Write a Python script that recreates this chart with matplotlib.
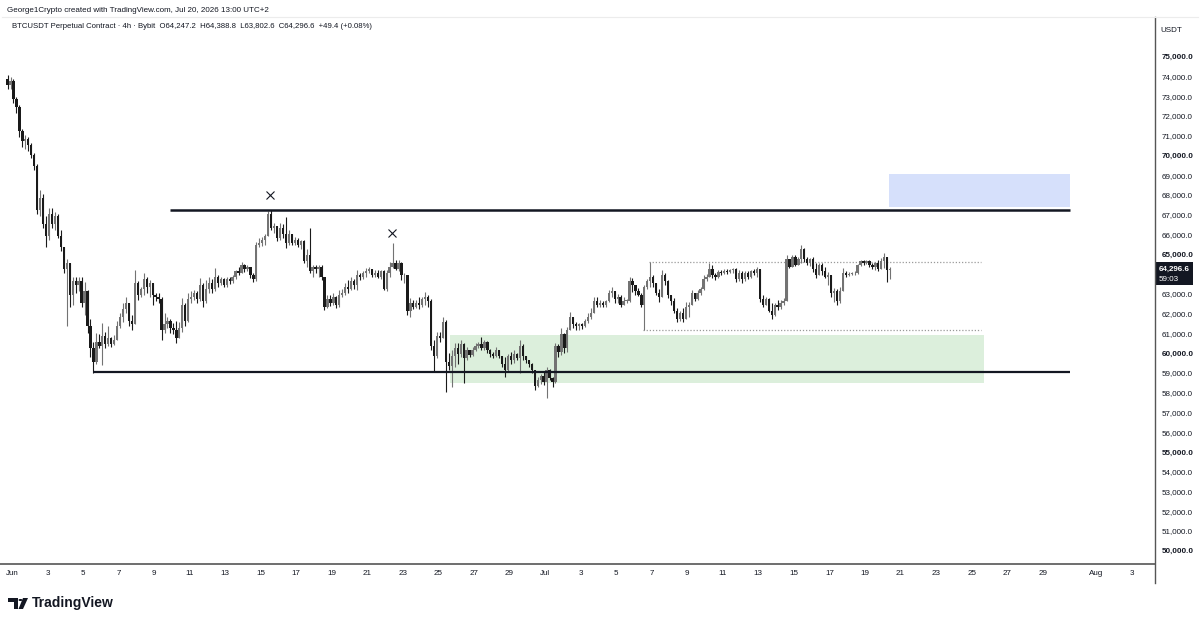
import matplotlib
matplotlib.use("Agg")
import matplotlib.pyplot as plt
import matplotlib.dates as mdates
from matplotlib.patches import Rectangle, Polygon, Circle
from matplotlib.lines import Line2D
import numpy as np
import pandas as pd

plt.rcParams['font.family'] = ['Liberation Sans', 'DejaVu Sans']

# BTCUSDT perpetual, Bybit, 4h bars from May 31 18:00 (UTC+2), prices in thousands
first_open = 73.90
closes = [
    73.60, 73.80,
    72.90, 72.50, 71.30, 70.80, 70.90, 70.60,
    70.10, 69.50, 67.30, 67.90, 66.60, 66.00,
    67.10, 66.60, 67.00, 66.00, 65.40, 64.30,
    64.60, 63.00, 63.70, 63.50, 63.70, 62.60,
    63.20, 61.40, 60.30, 59.60, 60.60, 60.40,
    60.90, 60.50, 60.80, 60.50, 60.70, 61.40,
    61.90, 62.30, 62.60, 61.70, 61.50, 63.60,
    63.00, 63.30, 63.80, 63.40, 63.60, 63.00,
    62.90, 62.80, 61.20, 61.50, 61.70, 61.30,
    61.20, 60.80, 61.30, 62.50, 61.70, 62.80,
    62.90, 63.10, 62.80, 63.50, 62.70, 63.30,
    63.60, 63.30, 63.90, 63.60, 63.80, 63.50,
    63.80, 63.70, 63.90, 64.20, 64.10, 64.50,
    64.30, 64.40, 64.00, 63.80, 65.50, 65.60,
    65.80, 66.00, 67.10, 66.40, 66.50, 65.90,
    66.40, 66.10, 65.60, 66.10, 65.60, 65.80,
    65.50, 65.70, 64.70, 65.00, 64.20, 64.40,
    64.30, 64.40, 63.90, 62.40, 62.80, 62.60,
    62.90, 62.50, 63.00, 63.10, 63.40, 63.30,
    63.70, 63.50, 64.00, 63.90, 64.10, 64.20,
    64.30, 64.00, 64.10, 63.90, 64.20, 63.30,
    64.10, 64.40, 64.60, 64.30, 64.60, 64.00,
    64.00, 62.20, 62.60, 62.40, 62.60, 62.50,
    62.80, 62.90, 62.70, 60.40, 59.90, 60.90,
    60.80, 61.60, 59.60, 59.40, 59.90, 60.30,
    60.00, 60.50, 59.80, 60.20, 59.95, 60.20,
    60.40, 60.50, 60.30, 60.60, 60.20, 60.00,
    59.90, 60.20, 59.90, 59.50, 59.20, 59.90,
    59.70, 60.00, 59.80, 60.40, 59.90, 59.70,
    59.50, 59.20, 58.40, 58.70, 58.90, 58.60,
    59.20, 58.80, 58.60, 60.40, 60.10, 61.00,
    60.30, 61.20, 61.90, 61.50, 61.40, 61.50,
    61.40, 61.70, 61.90, 62.10, 62.70, 62.50,
    62.60, 62.50, 62.70, 63.10, 63.20, 62.80,
    62.90, 62.50, 62.70, 62.70, 63.70, 63.50,
    63.20, 63.00, 62.50, 63.40, 63.70, 63.90,
    63.60, 63.10, 62.90, 64.00, 63.70, 63.00,
    62.70, 62.20, 61.80, 62.10, 61.80, 62.40,
    62.50, 63.10, 62.80, 63.10, 63.30, 63.80,
    63.90, 64.30, 64.00, 63.90, 64.15, 64.10,
    64.20, 64.15, 64.25, 64.30, 63.80, 64.10,
    63.80, 64.10, 63.90, 64.20, 64.10, 64.30,
    62.80, 62.50, 62.80, 62.20, 62.00, 62.50,
    62.40, 62.60, 62.70, 64.80, 64.40, 64.90,
    64.50, 64.80, 65.30, 64.80, 64.60, 64.80,
    64.30, 64.00, 64.50, 64.20, 63.90, 64.00,
    63.10, 63.20, 62.70, 63.20, 64.10, 64.00,
    64.05, 64.10, 64.10, 64.50, 64.70, 64.60,
    64.70, 64.50, 64.40, 64.60, 64.30, 64.70,
    64.90, 64.2472, 64.2966,
]
highs = [
    74.15, 74.00,
    73.90, 73.00, 72.60, 71.40, 71.10, 71.00,
    70.70, 70.20, 69.60, 68.30, 68.10, 67.00,
    67.40, 67.40, 67.20, 67.10, 66.30, 65.40,
    64.80, 64.60, 63.90, 63.90, 63.90, 63.90,
    63.65, 63.25, 61.80, 60.60, 61.05, 61.00,
    61.55, 61.10, 61.40, 60.85, 60.95, 61.70,
    62.10, 62.60, 62.90, 62.60, 62.00, 64.25,
    63.70, 63.40, 64.10, 63.90, 63.75, 63.60,
    63.10, 63.10, 62.90, 62.07, 61.90, 61.80,
    61.55, 61.70, 61.60, 62.83, 62.60, 63.08,
    63.20, 63.23, 63.20, 63.84, 63.60, 63.74,
    63.90, 63.80, 64.34, 64.00, 63.90, 63.84,
    63.90, 63.90, 64.00, 64.25, 64.40, 64.66,
    64.55, 64.50, 64.40, 64.10, 65.67, 65.90,
    65.93, 66.10, 67.25, 67.30, 66.63, 66.50,
    66.63, 66.60, 66.93, 66.27, 66.10, 65.93,
    65.86, 65.80, 65.76, 65.30, 66.37, 64.50,
    64.50, 64.50, 64.50, 63.90, 62.98, 63.00,
    63.08, 62.95, 63.23, 63.30, 63.60, 63.74,
    63.90, 63.80, 64.25, 64.10, 64.20, 64.34,
    64.40, 64.30, 64.25, 64.25, 64.25, 64.25,
    64.25, 64.66, 65.62, 64.76, 64.76, 64.65,
    64.10, 64.00, 62.83, 62.73, 62.73, 62.90,
    62.90, 63.13, 63.00, 62.80, 60.70, 61.12,
    61.10, 61.87, 61.72, 60.04, 60.20, 60.55,
    60.55, 60.70, 60.55, 60.35, 60.20, 60.35,
    60.55, 60.60, 60.87, 60.70, 60.65, 60.25,
    60.10, 60.35, 60.20, 59.90, 59.85, 60.00,
    60.10, 60.20, 60.05, 60.70, 60.50, 59.90,
    59.70, 59.53, 59.20, 58.84, 59.00, 59.10,
    59.36, 59.25, 58.85, 60.55, 60.50, 61.30,
    61.05, 61.37, 62.12, 61.90, 61.60, 61.55,
    61.55, 61.80, 62.06, 62.32, 62.88, 62.88,
    62.75, 62.70, 62.75, 63.23, 63.40, 63.20,
    63.05, 62.98, 62.90, 62.80, 63.90, 63.85,
    63.50, 63.33, 63.10, 63.50, 63.80, 64.66,
    64.00, 63.60, 63.30, 64.25, 64.10, 63.74,
    63.00, 62.83, 62.32, 62.20, 62.32, 62.63,
    62.63, 63.23, 63.10, 63.23, 63.40, 64.00,
    64.05, 64.60, 64.50, 64.10, 64.25, 64.25,
    64.30, 64.30, 64.30, 64.35, 64.35, 64.25,
    64.20, 64.20, 64.20, 64.25, 64.30, 64.40,
    64.30, 62.98, 62.90, 62.85, 62.57, 62.60,
    62.73, 62.75, 62.85, 65.00, 64.80, 65.00,
    65.00, 64.90, 65.51, 65.36, 64.90, 64.85,
    64.90, 64.60, 64.60, 64.60, 64.40, 64.15,
    64.00, 63.33, 63.30, 63.40, 64.34, 64.20,
    64.15, 64.15, 64.20, 64.55, 64.76, 64.76,
    64.76, 64.75, 64.60, 64.65, 64.75, 64.86,
    65.10, 64.90, 64.3888,
]
lows = [
    73.40, 73.40,
    72.70, 72.20, 71.00, 70.50, 70.40, 70.30,
    69.90, 69.30, 67.10, 67.00, 66.40, 65.40,
    65.80, 66.40, 66.30, 65.90, 65.20, 64.10,
    61.40, 62.40, 62.50, 63.10, 63.20, 62.40,
    62.00, 61.05, 59.85, 59.05, 59.50, 60.30,
    59.45, 60.30, 60.40, 60.35, 60.45, 60.70,
    61.30, 61.60, 62.10, 61.40, 61.20, 61.50,
    62.75, 62.90, 63.00, 63.10, 62.90, 62.50,
    62.70, 62.60, 60.70, 61.05, 61.30, 61.05,
    61.00, 60.55, 60.80, 61.10, 61.40, 61.60,
    62.60, 62.75, 62.57, 62.70, 62.40, 62.60,
    63.10, 63.10, 63.20, 63.40, 63.50, 63.40,
    63.40, 63.55, 63.60, 63.80, 64.00, 64.10,
    64.15, 64.20, 63.84, 63.65, 63.70, 65.40,
    65.45, 65.50, 66.00, 66.27, 66.12, 65.70,
    65.80, 65.90, 65.36, 65.50, 65.50, 65.50,
    65.40, 65.30, 64.60, 64.40, 64.08, 63.90,
    64.08, 63.90, 63.74, 62.23, 62.32, 62.45,
    62.50, 62.32, 62.40, 62.90, 63.00, 63.10,
    63.25, 63.30, 63.23, 63.75, 63.80, 63.90,
    64.08, 63.90, 63.90, 63.85, 63.80, 63.23,
    63.20, 63.90, 64.35, 64.25, 64.20, 63.74,
    63.60, 61.97, 61.87, 62.30, 62.32, 62.30,
    62.40, 62.50, 62.40, 60.20, 59.08, 59.80,
    60.60, 60.80, 58.08, 59.19, 58.33, 59.34,
    59.50, 59.85, 58.52, 59.70, 59.85, 59.90,
    60.15, 60.30, 60.20, 60.20, 60.05, 59.85,
    59.80, 59.85, 59.80, 59.35, 58.85, 59.10,
    59.50, 59.53, 59.70, 59.03, 59.70, 59.53,
    59.35, 59.03, 58.18, 58.33, 58.50, 58.45,
    57.77, 58.70, 58.33, 58.55, 59.85, 59.95,
    60.04, 60.10, 61.20, 61.30, 61.22, 61.20,
    61.25, 61.37, 61.55, 61.80, 62.10, 62.40,
    62.40, 62.40, 62.38, 62.63, 62.90, 62.60,
    62.60, 62.38, 62.50, 62.60, 62.63, 63.15,
    63.00, 62.95, 62.40, 61.22, 63.30, 63.40,
    63.40, 62.98, 62.63, 62.90, 63.50, 62.83,
    62.48, 62.07, 61.62, 61.70, 61.62, 61.80,
    61.90, 62.50, 62.70, 62.73, 63.00, 63.23,
    63.70, 63.90, 63.85, 63.74, 63.85, 64.00,
    64.05, 64.05, 64.10, 64.10, 63.65, 63.70,
    63.60, 63.70, 63.80, 63.85, 64.00, 63.90,
    62.63, 62.38, 62.50, 62.12, 61.80, 61.95,
    62.22, 62.30, 62.50, 62.70, 64.35, 64.40,
    64.45, 64.50, 64.60, 64.66, 64.50, 64.45,
    64.15, 63.84, 64.00, 64.00, 63.84, 63.48,
    62.90, 62.63, 62.48, 62.60, 63.20, 63.90,
    63.95, 64.00, 64.00, 64.05, 64.45, 64.50,
    64.55, 64.40, 64.30, 64.25, 64.20, 64.30,
    64.35, 63.65, 63.8026,
]

# drawn levels and zones
resistance = 67300
support = 59070
level_start_res = "2026-06-09 21:00"
level_start_sup = "2026-06-05 13:00"
level_end = "2026-07-30 13:00"
target_zone = (67440, 69110, "2026-07-20 08:00", "2026-07-30 13:00")
demand_zone = (58540, 60950, "2026-06-25 16:00", "2026-07-25 17:00")
range_high = (64670, "2026-07-06 20:00", "2026-07-25 13:00")
range_low = (61220, "2026-07-06 12:00", "2026-07-25 13:00")
x_marks = [("2026-06-15 12:00", 68040), ("2026-06-22 09:00", 66120)]

price_ticks = list(range(50000, 76000, 1000))
last_price = "64,296.6"
countdown = "59:03"

W, H = 1200, 622
fig = plt.figure(figsize=(W / 100, H / 100), dpi=100)
fig.patch.set_facecolor("white")


def fx(px):
    return px / W


def fy(py):
    return 1 - py / H


ax = fig.add_axes([0, fy(564), fx(1155), fy(17) - fy(564)])
ax.set_facecolor("white")


def d(s):
    return mdates.date2num(pd.Timestamp(s).to_pydatetime())


times = pd.date_range("2026-05-31 18:00", periods=len(closes), freq="4h")
x = mdates.date2num(times.to_pydatetime())
c = np.array(closes) * 1000
o = np.r_[first_open * 1000, c[:-1]]
h = np.maximum(np.array(highs) * 1000, np.maximum(o, c))
l = np.minimum(np.array(lows) * 1000, np.minimum(o, c))
up = c >= o
cols = np.where(up, "#737373", "#1a1a1a")

# zones behind the candles
for lo, hi, a, b in [target_zone, demand_zone]:
    col = "#d6e0fb" if lo > 65000 else "#dcefdc"
    ax.add_patch(Rectangle((d(a), lo), d(b) - d(a), hi - lo, facecolor=col,
                           edgecolor="none", zorder=1))

for lvl, a, b in [range_high, range_low]:
    ax.hlines(lvl, d(a), d(b), colors="#9a9a9a", linestyles=(0, (1, 1.5)),
              lw=0.9, zorder=2)

ax.vlines(x, l, h, colors=cols, lw=0.8, zorder=3)
ax.bar(x, np.maximum(np.abs(c - o), 25), bottom=np.minimum(o, c), width=0.13,
       color=cols, zorder=4)

ax.hlines(resistance, d(level_start_res), d(level_end), colors="#131722", lw=1.8, zorder=5)
ax.hlines(support, d(level_start_sup), d(level_end), colors="#131722", lw=1.6, zorder=5)

for t, p in x_marks:
    ax.plot(d(t), p, marker="x", ms=6, mew=0.8, color="#131722", zorder=6)

ax.set_xlim(d("2026-05-31 07:48"), d("2026-08-04 07:40"))
ax.set_ylim(49377, 77061)
ax.set_xticks([])
ax.set_yticks([])
for s in ["left", "top", "right"]:
    ax.spines[s].set_visible(False)
ax.spines["bottom"].set_color("#555555")
ax.spines["bottom"].set_linewidth(1.2)

# time axis labels
tick_days = ([pd.Timestamp(2026, 6, k) for k in range(1, 30, 2)]
             + [pd.Timestamp(2026, 7, k) for k in range(1, 30, 2)]
             + [pd.Timestamp(2026, 8, 1), pd.Timestamp(2026, 8, 3)])
for td in tick_days:
    lab = td.strftime("%b") if td.day == 1 else str(td.day)
    ax.text(mdates.date2num(td.to_pydatetime()), -0.0165, lab,
            transform=ax.get_xaxis_transform(), ha="center", va="center",
            fontsize=5.8, color="#131722", clip_on=False)

# price axis
fig.add_artist(Line2D([fx(1155), fx(1155)], [fy(17), fy(583)], color="#555555", lw=1.0))
fig.add_artist(Line2D([fx(2), fx(1198)], [fy(17), fy(17)], color="#ececec", lw=0.8))
for p in price_ticks:
    if p == 64000:
        continue
    ax.text(1.0055, p, f"{p:,.1f}", transform=ax.get_yaxis_transform(),
            ha="left", va="center", fontsize=5.8, color="#131722",
            fontweight="bold" if p % 5000 == 0 else "normal", clip_on=False)
fig.text(fx(1160), fy(30), "USDT", fontsize=5.8, color="#131722", va="center")

fig.add_artist(Rectangle((fx(1156), fy(285)), fx(37), fy(262) - fy(285),
                         facecolor="#131722", edgecolor="none"))
fig.text(fx(1159), fy(269), last_price, fontsize=5.8, color="white",
         fontweight="bold", va="center")
fig.text(fx(1159), fy(279), countdown, fontsize=5.8, color="white", va="center")

# header texts
fig.text(fx(7), fy(10), "George1Crypto created with TradingView.com, Jul 20, 2026 13:00 UTC+2",
         fontsize=5.8, color="#131722", va="center")
fig.text(fx(12), fy(27),
         "BTCUSDT Perpetual Contract \u00b7 4h \u00b7 Bybit  O64,247.2  H64,388.8  L63,802.6  C64,296.6  +49.4 (+0.08%)",
         fontsize=5.6, color="#131722", va="center")

# TradingView logo
fig.add_artist(Polygon([(fx(8), fy(598)), (fx(18), fy(598)), (fx(18), fy(609)),
                        (fx(14), fy(609)), (fx(14), fy(602)), (fx(8), fy(602))],
                       closed=True, facecolor="#131722", edgecolor="none"))
fig.add_artist(Circle((fx(20.5), fy(600)), 2.0 / W, facecolor="#131722", edgecolor="none"))
fig.add_artist(Polygon([(fx(23), fy(598)), (fx(28), fy(598)), (fx(23), fy(609)),
                        (fx(18.5), fy(609))],
                       closed=True, facecolor="#131722", edgecolor="none"))
fig.text(fx(32), fy(603.5), "TradingView", fontsize=10, color="#131722",
         fontweight="bold", va="center")

fig.savefig("out.png", dpi=100, facecolor="white")
